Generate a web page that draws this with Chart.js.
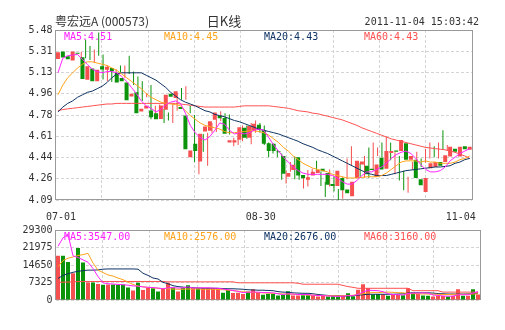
<!DOCTYPE html>
<html>
<head>
<meta charset="utf-8">
<title>粤宏远A 日K线</title>
<script src="https://cdn.jsdelivr.net/npm/chart.js@4.4.1/dist/chart.umd.min.js"></script>
<style>
  html, body { margin: 0; padding: 0; background: #fff; }
  #wrap { position: relative; width: 505px; height: 330px; }
  #wrap canvas { position: absolute; left: 0; top: 0; }
</style>
</head>
<body>
<div id="wrap">
  <canvas id="kline" width="505" height="330"></canvas>
  <canvas id="volume" width="505" height="330"></canvas>
</div>
<script>
// trading days 2011-07-01 .. 2011-11-04
const dates = [
  '07-01','07-04','07-05','07-06','07-07','07-08','07-11','07-12','07-13','07-14','07-15','07-18','07-19','07-20','07-21','07-22','07-25','07-26','07-27','07-28','07-29',
  '08-01','08-02','08-03','08-04','08-05','08-08','08-09','08-10','08-11','08-12','08-15','08-16','08-17','08-18','08-19','08-22','08-23','08-24','08-25','08-26','08-29','08-30','08-31',
  '09-01','09-02','09-05','09-06','09-07','09-08','09-09','09-13','09-14','09-15','09-16','09-19','09-20','09-21','09-22','09-23','09-26','09-27','09-28','09-29','09-30',
  '10-10','10-11','10-12','10-13','10-14','10-17','10-18','10-19','10-20','10-21','10-24','10-25','10-26','10-27','10-28','10-31',
  '11-01','11-02','11-03','11-04'
];
const axisDates = ['07-01', '08-30', '11-04'];

const opens = [5.243,5.305,5.265,5.23,5.285,5.257,5.074,5.165,5.06,5.184, 5.155,5.17,5.13,5.088,5.05,4.937,4.97,4.814,4.838,4.822,
  4.80,4.752,4.828,4.958,4.925,4.85,4.78,4.44,4.55,4.405, 4.65,4.656,4.746,4.78,4.76,4.56,4.56,4.583,4.68,4.598,
  4.66,4.705,4.66,4.555,4.55,4.48,4.45,4.28,4.335,4.44, 4.295,4.256,4.29,4.31,4.345,4.31,4.22,4.205,4.27,4.175,
  4.12,4.27,4.38,4.37,4.345,4.28,4.435,4.345,4.475,4.495, 4.49,4.555,4.42,4.42,4.26,4.155,4.35,4.36,4.40,4.40,
  4.445,4.51,4.445,4.53,4.50];
const highs = [5.30,5.40,5.35,5.32,5.46,5.28,5.19,5.17,5.16,5.19, 5.19,5.27,5.14,5.10,5.06,4.965,5.03,4.86,4.87,4.835,
  4.805,4.87,4.96,5.005,5.02,4.86,4.785,4.52,4.63,4.64, 4.72,4.75,4.815,4.80,4.79,4.60,4.60,4.70,4.70,4.72,
  4.74,4.72,4.70,4.56,4.555,4.50,4.47,4.33,4.40,4.445, 4.30,4.29,4.335,4.345,4.41,4.32,4.24,4.34,4.28,4.18,
  4.28,4.43,4.53,4.40,4.39,4.45,4.52,4.56,4.52,4.56, 4.61,4.56,4.48,4.45,4.33,4.28,4.40,4.485,4.43,4.51,
  4.56,4.53,4.56,4.66,4.54];
const lows = [5.24,5.25,5.235,5.21,5.27,5.075,5.06,5.055,5.05,5.13, 5.09,5.12,5.03,4.95,4.90,4.93,4.75,4.78,4.76,4.72,
  4.74,4.72,4.82,4.91,4.91,4.80,4.40,4.30,4.485,4.37, 4.64,4.645,4.735,4.74,4.625,4.53,4.54,4.57,4.59,4.545,
  4.64,4.64,4.54,4.44,4.47,4.44,4.255,4.225,4.32,4.26, 4.255,4.185,4.20,4.30,4.32,4.205,4.115,4.20,4.16,4.09,
  4.10,4.26,4.37,4.28,4.28,4.27,4.27,4.33,4.45,4.44, 4.48,4.415,4.30,4.25,4.17,4.15,4.34,4.34,4.36,4.395,
  4.43,4.44,4.43,4.50,4.49];
const closes = [5.298,5.255,5.24,5.305,5.285,5.08,5.183,5.06,5.156,5.158, 5.18,5.143,5.05,5.06,4.905,4.958,4.80,4.836,4.86,4.767,
  4.75,4.863,4.95,4.935,4.98,4.835,4.505,4.495,4.49,4.632, 4.69,4.733,4.806,4.758,4.632,4.578,4.578,4.685,4.60,4.695,
  4.713,4.665,4.55,4.49,4.49,4.48,4.305,4.31,4.378,4.29, 4.268,4.276,4.32,4.335,4.325,4.215,4.205,4.33,4.17,4.145,
  4.24,4.41,4.405,4.30,4.335,4.38,4.34,4.49,4.49,4.485, 4.58,4.42,4.45,4.27,4.21,4.27,4.39,4.40,4.37,4.455,
  4.525,4.485,4.525,4.505,4.525];

const ma5 = [5.13,5.25,5.27,5.275,5.28,5.24,5.20,5.16,5.14,5.13, 5.14,5.14,5.13,5.10,5.06,5.01,4.96,4.90,4.86,4.84,
  4.81,4.83,4.87,4.89,4.90,4.88,4.80,4.70,4.64,4.60, 4.58,4.61,4.66,4.72,4.71,4.66,4.63,4.64,4.63,4.64,
  4.66,4.67,4.66,4.60,4.54,4.49,4.44,4.40,4.36,4.33, 4.31,4.30,4.30,4.30,4.30,4.30,4.29,4.27,4.24,4.22,
  4.22,4.25,4.29,4.32,4.32,4.34,4.36,4.39,4.43,4.46, 4.48,4.49,4.47,4.43,4.38,4.34,4.32,4.32,4.33,4.36,
  4.41,4.44,4.47,4.49,4.51];
const ma10 = [4.95,5.03,5.09,5.13,5.17,5.20,5.22,5.22,5.21,5.20, 5.19,5.17,5.15,5.12,5.09,5.06,5.03,5.00,4.96,4.93,
  4.91,4.89,4.88,4.875,4.87,4.86,4.82,4.78,4.75,4.72, 4.70,4.69,4.68,4.67,4.65,4.64,4.64,4.645,4.65,4.655,
  4.655,4.65,4.64,4.62,4.59,4.56,4.52,4.49,4.45,4.42, 4.39,4.37,4.35,4.34,4.33,4.32,4.30,4.29,4.28,4.27,
  4.27,4.27,4.275,4.28,4.28,4.28,4.29,4.31,4.34,4.37, 4.40,4.41,4.41,4.41,4.40,4.41,4.40,4.40,4.39,4.39,
  4.39,4.40,4.42,4.43,4.45];
const ma20 = [4.81,4.85,4.88,4.90,4.93,4.95,4.97,4.98,5.00,5.02, 5.05,5.09,5.12,5.13,5.13,5.13,5.13,5.13,5.11,5.09,
  5.07,5.04,5.01,4.97,4.94,4.91,4.89,4.875,4.86,4.84, 4.82,4.81,4.79,4.78,4.77,4.755,4.74,4.73,4.715,4.70,
  4.685,4.67,4.66,4.65,4.64,4.63,4.615,4.60,4.585,4.57, 4.55,4.535,4.52,4.50,4.485,4.47,4.45,4.43,4.41,4.39,
  4.37,4.35,4.33,4.31,4.30,4.29,4.29,4.29,4.30,4.31, 4.32,4.33,4.335,4.34,4.345,4.35,4.355,4.36,4.36,4.365,
  4.37,4.39,4.40,4.42,4.43];
const ma60 = [4.82,4.83,4.835,4.84,4.845,4.85,4.855,4.86,4.865,4.87, 4.875,4.875,4.88,4.88,4.88,4.88,4.88,4.88,4.88,4.88,
  4.88,4.88,4.88,4.88,4.88,4.875,4.87,4.865,4.86,4.855, 4.85,4.85,4.85,4.85,4.85,4.85,4.85,4.855,4.86,4.86,
  4.86,4.86,4.86,4.86,4.855,4.85,4.845,4.84,4.83,4.82, 4.815,4.81,4.80,4.795,4.785,4.775,4.765,4.755,4.745,4.73,
  4.715,4.70,4.68,4.665,4.65,4.635,4.62,4.605,4.59,4.58, 4.57,4.56,4.55,4.54,4.53,4.52,4.515,4.51,4.505,4.50,
  4.49,4.48,4.465,4.45,4.43];

const volumes = [18550,18550,15900,11200,21800,15700,7300,7300,6700,6350, 6450,6500,6300,6500,5200,4000,7250,4200,5100,4950,
  3550,4950,7250,5200,3550,5100,6200,4950,4950,4950, 4950,4900,4950,3000,4200,2900,3000,2500,3500,4500,
  3000,2150,2650,2650,1900,2100,3700,1900,1900,2000, 2000,2000,1450,1650,1450,1600,1450,1800,2850,1600,
  4250,6600,5000,2300,2500,2400,1800,2300,2200,2000, 4950,3000,2600,1900,1750,1450,1700,1700,1450,1750,
  4500,1800,1800,4500,2300];
const volMa5 = [22500,26000,27500,18500,17800,16800,15800,13200,9800,7200, 6800,6700,6500,6400,6200,5900,5800,5500,5300,5200,
  5000,4700,5100,5200,5000,5100,5500,5000,5100,5100, 5100,5000,4900,4600,4300,4000,3600,3100,3300,3300,
  3300,3100,3100,3000,2600,2300,2600,2500,2300,2300, 2300,2000,1900,1800,1700,1600,1500,1600,1800,1800,
  2300,3300,4100,4000,3900,3500,2600,2300,2200,2100, 2700,2900,2900,3000,2900,2100,1900,1700,1600,1600,
  2200,2200,2200,2900,3547];
const volMa10 = [14000,16500,17500,18000,18600,19000,19500,15500,12500,11500, 10500,10000,9200,8500,7500,6500,5800,5500,5300,5100,
  4900,4800,4700,4600,4500,4500,4600,4600,4600,4500, 4500,4500,4400,4300,4100,3900,3700,3400,3300,3200,
  3100,3000,2900,2800,2700,2500,2500,2400,2300,2200, 2100,2000,1900,1900,1800,1800,1700,1800,1900,2000,
  2300,2600,3000,3100,3100,3200,3300,3200,3100,3000, 2700,2600,2600,2500,2500,2400,2400,2300,2300,2400,
  2400,2400,2450,2500,2576];
const volMa20 = [9000,10300,11000,11600,12000,12300,12500,12500,12600,12900, 13000,13000,13000,13000,13000,13000,12900,11200,10300,9200,
  8800,7400,6800,6000,5600,5400,5200,5100,5000,4900, 4900,4900,4900,4800,4700,4700,4600,4500,4300,4200,
  4100,4100,4000,3900,3500,3300,3200,3000,2900,2800, 2800,2600,2300,2100,1900,1800,1800,1700,1700,1800,
  2000,2200,2400,2400,2400,2400,2400,2400,2500,2600, 2900,3000,3000,3000,3000,2900,2700,2600,2500,2500,
  2500,2500,2550,2600,2676];
const volMa60 = [7400,7450,7500,7600,7700,7700,7750,7750,7750,7750, 7750,7750,7750,7750,7750,7750,7750,7750,7750,7750,
  7750,7750,7600,7600,7600,7600,7600,7600,7600,7600, 7600,7600,7600,7600,7600,7600,7200,7200,7200,7200,
  7200,7200,7200,7200,7200,7200,7200,7200,7000,6600, 6600,6600,6600,6600,6600,6600,6600,6100,5600,5300,
  4900,4900,4900,4900,4900,4900,4900,4900,4900,4900, 4900,3900,3900,3900,3900,3900,3900,3300,3300,3300,
  3300,3300,3300,3300,3160];

const priceTicks = ['4.09','4.26','4.44','4.61','4.78','4.96','5.13','5.31','5.48'];
const volumeTicks = ['0','7325','14650','21975','29300'];

const UP = '#f54f4f';
const DOWN = '#0b930b';
const GRID = '#d4d4d4';
const TEXT = '#333';
const MONO = '"DejaVu Sans Mono", monospace';
const MA_COLORS = ['#ff22ff', '#ffa31a', '#0f3363', '#ff5050'];

const candleColors = closes.map((c, i) => (c > opens[i] ? UP : DOWN));

// header texts and MA legends
const overlayText = {
  id: 'overlayText',
  afterDraw(chart, args, opts) {
    const ctx = chart.ctx;
    ctx.save();
    ctx.textBaseline = 'middle';
    (opts.items || []).forEach(t => {
      ctx.font = t.font;
      ctx.fillStyle = t.color;
      ctx.textAlign = t.align || 'left';
      ctx.fillText(t.text, t.x, t.y);
    });
    ctx.restore();
  }
};

// solid grey box round the plot area
const plotFrame = {
  id: 'plotFrame',
  beforeDatasetsDraw(chart) {
    const { ctx, chartArea: a } = chart;
    const x0 = Math.floor(a.left) + 0.5, y0 = Math.floor(a.top) + 0.5;
    const x1 = Math.floor(a.right) + 0.5, y1 = Math.floor(a.bottom) - 0.5;
    ctx.save();
    ctx.strokeStyle = '#999';
    ctx.lineWidth = 1;
    ctx.strokeRect(x0, y0, x1 - x0, y1 - y0);
    ctx.restore();
  }
};

function maLegend(names, series, digits, y) {
  return names.map((name, k) => ({
    text: name + ':' + series[k][series[k].length - 1].toFixed(digits),
    color: MA_COLORS[k], font: '10px ' + MONO, x: 64 + k * 100, y
  }));
}

function maLines(series) {
  return series.map((data, k) => ({
    type: 'line', data, borderColor: MA_COLORS[k], borderWidth: 1,
    pointRadius: 0, fill: false, tension: 0
  }));
}

// eight equal vertical divisions, independent of the dates
function gridAxis() {
  return {
    type: 'linear', position: 'top', min: 0, max: 8,
    ticks: { display: false, stepSize: 1 },
    grid: { color: GRID, drawTicks: false },
    border: { display: false, dash: [3, 2] },
    afterFit: s => { s.height = 0; }
  };
}

function valueAxis(labels) {
  const lo = +labels[0], hi = +labels[labels.length - 1];
  return {
    min: lo, max: hi, beginAtZero: false,
    afterBuildTicks: s => {
      s.ticks = labels.map((t, k) => ({ value: lo + k * (hi - lo) / (labels.length - 1) }));
    },
    ticks: { callback: (v, i) => labels[i], color: TEXT, font: { family: MONO, size: 10 }, padding: 3 },
    grid: { color: GRID, drawTicks: false },
    border: { display: false, dash: [3, 2] },
    afterFit: s => { s.width = 55; }
  };
}

const common = {
  responsive: false,
  animation: false,
  events: [],
  plugins: { legend: { display: false }, tooltip: { enabled: false } }
};

new Chart(document.getElementById('kline'), {
  type: 'bar',
  data: {
    labels: dates,
    datasets: [
      ...maLines([ma5, ma10, ma20, ma60]),
      {
        data: opens.map((o, i) => [o, closes[i]]),
        backgroundColor: candleColors, barThickness: 4, minBarLength: 1,
        grouped: false, inflateAmount: 0, borderWidth: 0
      },
      {
        xAxisID: 'xw',
        data: lows.map((l, i) => ({ x: i, y: [l, highs[i]] })),
        backgroundColor: candleColors, barThickness: 1,
        grouped: false, inflateAmount: 0, borderWidth: 0
      }
    ]
  },
  options: {
    ...common,
    layout: { padding: { top: 30, left: 0.5, right: 24.5, bottom: 0 } },
    scales: {
      x: {
        type: 'category', offset: true,
        grid: { display: false, drawTicks: false },
        border: { display: false },
        ticks: {
          autoSkip: false, maxRotation: 0, minRotation: 0, padding: 11,
          color: TEXT, font: { family: MONO, size: 10 },
          callback: (v, i) => {
            if (!axisDates.includes(dates[i])) return '';
            // keep the end labels inside the frame
            if (i === 0) return ' ' + dates[i];
            if (i === dates.length - 1) return dates[i] + '   ';
            return dates[i] + ' ';
          }
        },
        afterFit: s => { s.height = 130; }
      },
      xw: { type: 'linear', display: false, min: -0.6, max: dates.length - 0.6 },
      xg: gridAxis(),
      y: valueAxis(priceTicks)
    },
    plugins: {
      ...common.plugins,
      overlayText: {
        items: [
          { text: '粤宏远A (000573)', x: 55, y: 21, color: TEXT, font: '12px "Noto Sans CJK SC"' },
          { text: '日K线', x: 224, y: 21, align: 'center', color: TEXT, font: '13px "Noto Sans CJK SC"' },
          { text: '2011-11-04 15:03:42', x: 479, y: 22, align: 'right', color: TEXT, font: '10px ' + MONO },
          ...maLegend(['MA5', 'MA10', 'MA20', 'MA60'], [ma5, ma10, ma20, ma60], 2, 37)
        ]
      }
    }
  },
  plugins: [plotFrame, overlayText]
});

new Chart(document.getElementById('volume'), {
  type: 'bar',
  data: {
    labels: dates,
    datasets: [
      ...maLines([volMa5, volMa10, volMa20, volMa60]),
      {
        data: volumes, backgroundColor: candleColors, barThickness: 4,
        grouped: false, inflateAmount: 0, borderWidth: 0
      }
    ]
  },
  options: {
    ...common,
    layout: { padding: { top: 230, left: 0.5, right: 24.5, bottom: 30 } },
    scales: {
      x: { type: 'category', offset: true, display: false },
      xg: gridAxis(),
      y: valueAxis(volumeTicks)
    },
    plugins: {
      ...common.plugins,
      overlayText: {
        items: maLegend(['MA5', 'MA10', 'MA20', 'MA60'], [volMa5, volMa10, volMa20, volMa60], 2, 237)
      }
    }
  },
  plugins: [plotFrame, overlayText]
});
</script>
</body>
</html>
